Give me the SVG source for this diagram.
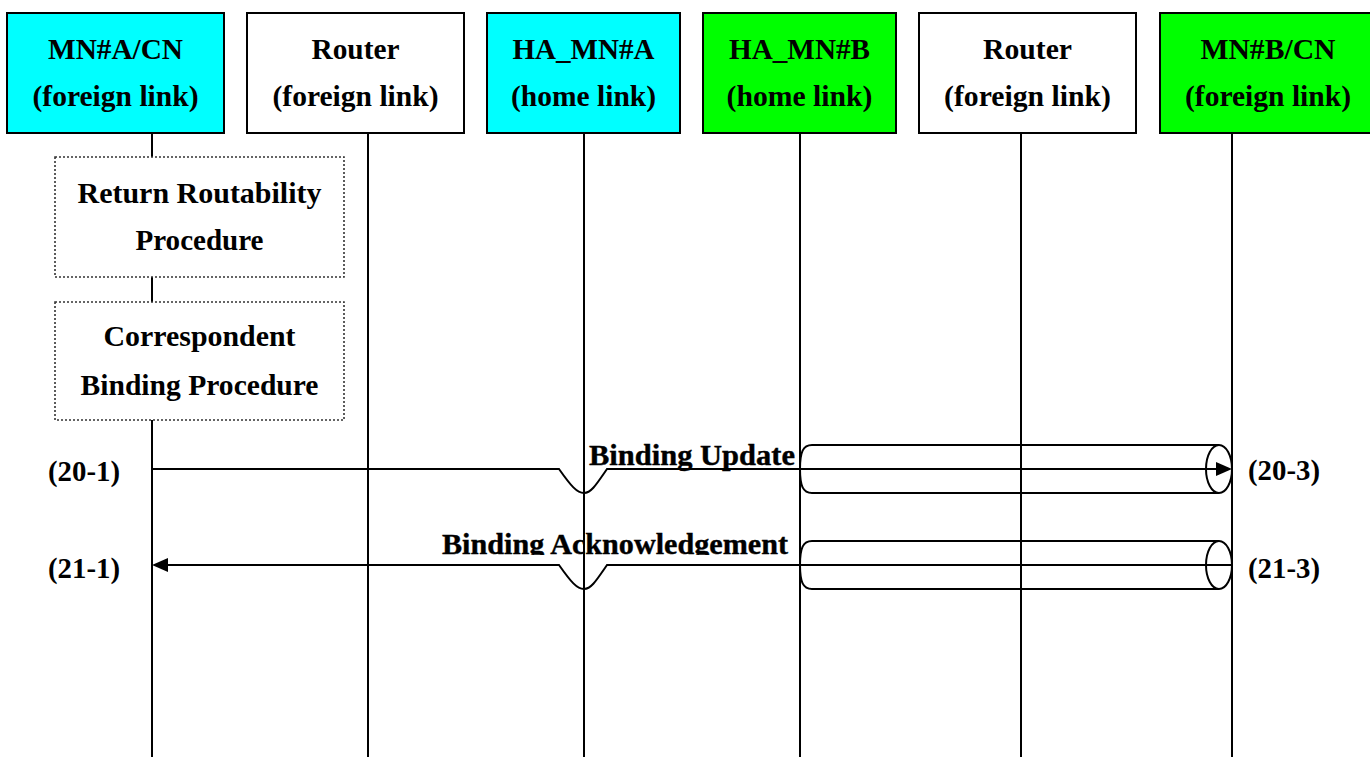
<svg xmlns="http://www.w3.org/2000/svg" width="1370" height="760" viewBox="0 0 1370 760">
<style>
  text { font-family: "Liberation Serif", "Times New Roman", serif; font-weight: bold; fill: #000; text-anchor: middle; }
  .hd { font-size: 29px; }
  .pr { font-size: 30px; }
  .msg { font-size: 30px; stroke: #000; stroke-width: 0.4; }
  .lb { font-size: 29px; }
  .box { stroke: #000; stroke-width: 2; }
  .life { stroke: #000; stroke-width: 2; fill: none; }
  .proc { fill: #fff; stroke: #333; stroke-width: 1.6; stroke-dasharray: 2 2; }
  .conn { stroke: #000; stroke-width: 2; fill: none; }
  .tun { stroke: #000; stroke-width: 2; fill: none; }
</style>
<defs>
  <clipPath id="clipBA"><rect x="400" y="520" width="420" height="35"/></clipPath>
</defs>
<rect width="1370" height="760" fill="#fff"/>

<g id="lifelines">
  <line class="life" x1="152" y1="133" x2="152" y2="757"/>
  <line class="life" x1="368" y1="133" x2="368" y2="757"/>
  <line class="life" x1="584" y1="133" x2="584" y2="757"/>
  <line class="life" x1="800" y1="133" x2="800" y2="757"/>
  <line class="life" x1="1021" y1="133" x2="1021" y2="757"/>
  <line class="life" x1="1232" y1="133" x2="1232" y2="757"/>
</g>

<g id="node-mna">
  <rect class="box" x="7" y="13" width="217" height="120" fill="#00ffff"/>
  <text class="hd" x="115.5" y="59" textLength="135" lengthAdjust="spacingAndGlyphs">MN#A/CN</text>
  <text class="hd" x="115.5" y="106" textLength="166" lengthAdjust="spacingAndGlyphs">(foreign link)</text>
</g>
<g id="node-router1">
  <rect class="box" x="247" y="13" width="217" height="120" fill="#ffffff"/>
  <text class="hd" x="355.5" y="59" textLength="88" lengthAdjust="spacingAndGlyphs">Router</text>
  <text class="hd" x="355.5" y="106" textLength="166" lengthAdjust="spacingAndGlyphs">(foreign link)</text>
</g>
<g id="node-ha-a">
  <rect class="box" x="487" y="13" width="193" height="120" fill="#00ffff"/>
  <text class="hd" x="583.5" y="59" textLength="142" lengthAdjust="spacingAndGlyphs">HA_MN#A</text>
  <text class="hd" x="583.5" y="106" textLength="145" lengthAdjust="spacingAndGlyphs">(home link)</text>
</g>
<g id="node-ha-b">
  <rect class="box" x="703" y="13" width="193" height="120" fill="#00ff00"/>
  <text class="hd" x="799.5" y="59" textLength="141" lengthAdjust="spacingAndGlyphs">HA_MN#B</text>
  <text class="hd" x="799.5" y="106" textLength="146" lengthAdjust="spacingAndGlyphs">(home link)</text>
</g>
<g id="node-router2">
  <rect class="box" x="919" y="13" width="217" height="120" fill="#ffffff"/>
  <text class="hd" x="1027.5" y="59" textLength="89" lengthAdjust="spacingAndGlyphs">Router</text>
  <text class="hd" x="1027.5" y="106" textLength="167" lengthAdjust="spacingAndGlyphs">(foreign link)</text>
</g>
<g id="node-mnb">
  <rect class="box" x="1160" y="13" width="217" height="120" fill="#00ff00"/>
  <text class="hd" x="1268" y="59" textLength="135" lengthAdjust="spacingAndGlyphs">MN#B/CN</text>
  <text class="hd" x="1268" y="106" textLength="166" lengthAdjust="spacingAndGlyphs">(foreign link)</text>
</g>

<g id="proc-rr">
  <rect class="proc" x="55" y="157" width="289" height="120"/>
  <text class="pr" x="199.5" y="203" textLength="244" lengthAdjust="spacingAndGlyphs">Return Routability</text>
  <text class="pr" x="199.5" y="250" textLength="128" lengthAdjust="spacingAndGlyphs">Procedure</text>
</g>
<g id="proc-cb">
  <rect class="proc" x="55" y="302" width="289" height="118"/>
  <text class="pr" x="199.5" y="346" textLength="192" lengthAdjust="spacingAndGlyphs">Correspondent</text>
  <text class="pr" x="199.5" y="395" textLength="238" lengthAdjust="spacingAndGlyphs">Binding Procedure</text>
</g>

<g id="connectors">
  <!-- tunnels -->
  <path class="tun" d="M812,445 C803,445 800,452 800,469 C800,486 803,493 812,493 M812,445 L1219,445 M812,493 L1219,493"/>
  <ellipse class="tun" cx="1219" cy="469" rx="13" ry="24"/>
  <path class="tun" d="M812,541 C803,541 800,548 800,565 C800,582 803,589 812,589 M812,541 L1219,541 M812,589 L1219,589"/>
  <ellipse class="tun" cx="1219" cy="565" rx="13" ry="24"/>
  <!-- Binding Update -->
  <path class="conn" d="M152,469 L559,469 C571,486 577,493 584,493 C591,493 596,485 607,469 L1218,469"/>
  <polygon points="1232,469 1216,462 1216,476" fill="#000"/>
  <!-- Binding Acknowledgement -->
  <path class="conn" d="M1232,565 L607,565 C596,581 591,589 584,589 C577,589 571,582 559,565 L166,565"/>
  <polygon points="152,565 168,558 168,572" fill="#000"/>
</g>

<g id="labels">
  <text class="msg" x="692" y="465" textLength="206" lengthAdjust="spacingAndGlyphs">Binding Update</text>
  <text class="msg" x="615" y="554" textLength="346" lengthAdjust="spacingAndGlyphs" clip-path="url(#clipBA)">Binding Acknowledgement</text>
  <text class="lb" x="84" y="481" textLength="72" lengthAdjust="spacingAndGlyphs">(20-1)</text>
  <text class="lb" x="84" y="578" textLength="72" lengthAdjust="spacingAndGlyphs">(21-1)</text>
  <text class="lb" x="1284" y="480" textLength="72" lengthAdjust="spacingAndGlyphs">(20-3)</text>
  <text class="lb" x="1284" y="578" textLength="72" lengthAdjust="spacingAndGlyphs">(21-3)</text>
</g>
</svg>
